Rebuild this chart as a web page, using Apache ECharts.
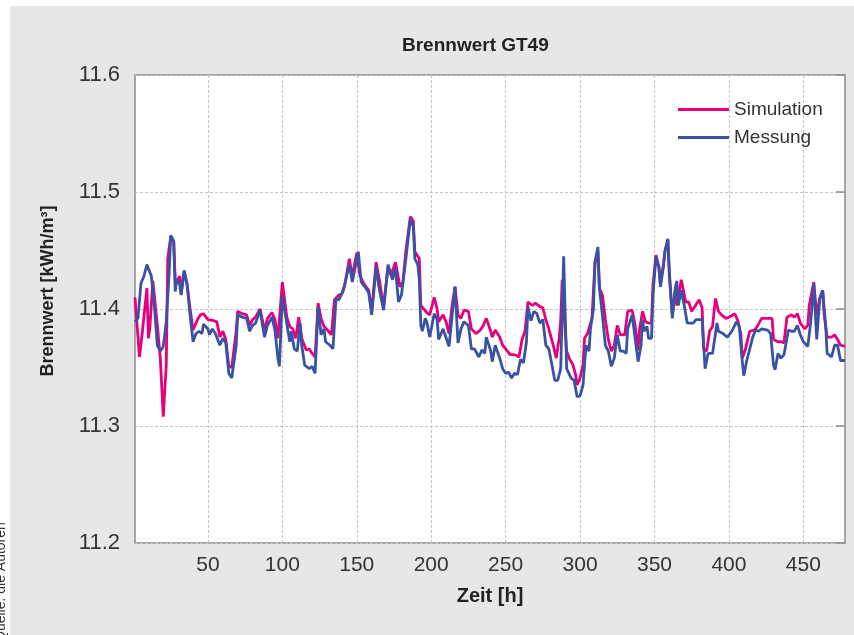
<!DOCTYPE html>
<html>
<head>
<meta charset="utf-8">
<script src="https://cdn.jsdelivr.net/npm/echarts@6/dist/echarts.min.js"></script>
<style>
	html, body { margin: 0; padding: 0; background: #fff; }
	#chart { width: 854px; height: 635px; }
</style>
</head>
<body>
<div id="chart"></div>
<script>
var simHours = [1,4,6,9,10,11,13,16,18,20,22,23,25,27,28,29,31,32,34,36,38,40,43,45,47,50,51,54,56,58,60,62,64,66,69,70,73,76,78,80,82,85,88,90,93,95,97,100,103,105,107,109,111,113,116,118,120,122,124,126,128,131,133,135,138,140,142,145,147,150,152,155,158,160,163,165,168,171,173,176,179,181,183,186,188,189,191,192,193,195,197,199,202,204,205,208,210,212,214,216,218,220,222,225,227,230,233,235,237,240,241,243,246,248,250,253,256,259,261,263,265,268,270,273,275,277,279,282,284,286,287,288,289,291,293,295,297,298,300,302,303,305,308,310,312,313,315,317,319,321,323,325,327,330,332,335,337,339,340,342,344,346,348,349,351,353,354,356,357,359,360,362,364,365,368,371,373,375,377,380,382,383,385,387,389,391,393,395,398,400,404,406,408,409,411,413,414,417,419,422,424,427,429,430,433,435,437,439,442,444,446,448,451,453,454,457,459,461,463,464,466,469,471,473,475,478];
var simValues = [11.410,11.359,11.381,11.418,11.375,11.384,11.424,11.386,11.358,11.308,11.352,11.443,11.462,11.458,11.426,11.423,11.428,11.413,11.432,11.421,11.400,11.382,11.391,11.395,11.396,11.391,11.392,11.390,11.389,11.376,11.381,11.374,11.351,11.350,11.381,11.398,11.396,11.395,11.386,11.391,11.393,11.400,11.382,11.392,11.397,11.391,11.375,11.423,11.393,11.385,11.383,11.375,11.393,11.375,11.365,11.366,11.362,11.359,11.405,11.392,11.385,11.381,11.378,11.408,11.412,11.413,11.421,11.443,11.428,11.448,11.429,11.421,11.416,11.398,11.440,11.426,11.402,11.436,11.429,11.440,11.419,11.423,11.450,11.479,11.475,11.449,11.445,11.443,11.403,11.400,11.397,11.395,11.410,11.400,11.389,11.395,11.389,11.379,11.403,11.419,11.395,11.392,11.399,11.398,11.383,11.379,11.382,11.386,11.392,11.381,11.376,11.382,11.376,11.369,11.366,11.361,11.361,11.359,11.374,11.381,11.406,11.403,11.405,11.402,11.401,11.391,11.383,11.369,11.358,11.375,11.390,11.425,11.400,11.364,11.357,11.353,11.344,11.335,11.341,11.352,11.375,11.379,11.392,11.439,11.449,11.418,11.412,11.391,11.374,11.364,11.369,11.386,11.378,11.378,11.398,11.399,11.386,11.365,11.383,11.398,11.389,11.388,11.388,11.421,11.446,11.436,11.421,11.438,11.449,11.459,11.428,11.395,11.416,11.403,11.425,11.406,11.406,11.398,11.402,11.408,11.401,11.366,11.364,11.381,11.385,11.409,11.398,11.395,11.392,11.393,11.396,11.390,11.379,11.358,11.365,11.376,11.381,11.382,11.385,11.392,11.392,11.392,11.392,11.374,11.372,11.372,11.371,11.393,11.395,11.393,11.396,11.388,11.383,11.386,11.403,11.423,11.395,11.409,11.416,11.395,11.376,11.376,11.378,11.374,11.369,11.368];

var mesHours = [1,3,5,7,9,12,14,16,18,20,22,24,25,27,28,29,31,32,34,36,38,40,42,44,46,47,50,51,53,55,56,58,60,62,64,66,69,70,73,76,78,80,82,85,88,90,93,95,97,98,100,102,105,106,108,110,112,113,115,118,120,122,124,126,128,129,132,134,136,138,141,145,147,151,153,156,158,160,163,165,168,171,174,176,178,180,183,186,188,189,191,192,193,194,196,197,199,202,204,205,208,209,212,213,216,218,220,222,225,227,229,232,234,236,237,240,241,243,246,248,250,252,254,256,258,260,262,264,265,267,269,271,273,275,277,279,281,283,285,287,289,291,292,294,296,298,300,302,304,306,307,309,310,312,313,315,317,319,321,323,325,327,329,331,332,335,337,339,341,342,343,345,346,348,349,351,353,354,356,357,359,360,362,364,365,366,368,370,372,374,376,378,380,382,384,386,389,392,393,396,399,402,405,407,409,410,412,414,416,418,420,422,426,428,430,431,433,435,437,440,442,444,446,448,450,453,455,457,459,461,463,465,466,469,471,473,475,478];
var mesValues = [11.389,11.392,11.422,11.428,11.438,11.428,11.403,11.369,11.364,11.368,11.389,11.432,11.463,11.458,11.415,11.425,11.421,11.412,11.433,11.421,11.395,11.372,11.379,11.381,11.379,11.387,11.383,11.378,11.383,11.379,11.380,11.369,11.375,11.371,11.345,11.341,11.369,11.395,11.393,11.392,11.381,11.386,11.388,11.399,11.376,11.386,11.393,11.382,11.358,11.351,11.411,11.395,11.372,11.381,11.366,11.364,11.388,11.369,11.352,11.349,11.351,11.345,11.402,11.378,11.383,11.372,11.369,11.366,11.408,11.408,11.416,11.438,11.423,11.449,11.423,11.418,11.414,11.395,11.436,11.418,11.399,11.438,11.425,11.435,11.406,11.412,11.443,11.477,11.470,11.443,11.438,11.425,11.386,11.381,11.392,11.389,11.376,11.396,11.391,11.374,11.383,11.379,11.368,11.368,11.419,11.371,11.383,11.389,11.386,11.366,11.366,11.359,11.365,11.362,11.376,11.364,11.355,11.369,11.358,11.349,11.345,11.346,11.341,11.345,11.344,11.357,11.354,11.372,11.402,11.390,11.398,11.396,11.388,11.391,11.369,11.366,11.353,11.339,11.339,11.349,11.445,11.349,11.348,11.341,11.339,11.325,11.326,11.335,11.369,11.364,11.383,11.400,11.440,11.453,11.418,11.395,11.369,11.364,11.351,11.358,11.378,11.364,11.364,11.362,11.383,11.395,11.375,11.355,11.369,11.391,11.381,11.385,11.375,11.375,11.412,11.445,11.435,11.419,11.436,11.449,11.460,11.432,11.392,11.418,11.424,11.403,11.416,11.403,11.388,11.388,11.388,11.391,11.391,11.391,11.349,11.362,11.362,11.388,11.381,11.379,11.376,11.381,11.389,11.385,11.355,11.343,11.356,11.366,11.376,11.382,11.381,11.383,11.382,11.379,11.352,11.348,11.362,11.358,11.361,11.382,11.381,11.381,11.386,11.378,11.372,11.368,11.389,11.422,11.374,11.408,11.416,11.386,11.362,11.359,11.369,11.369,11.356,11.356];

var xTicks = [50, 100, 150, 200, 250, 300, 350, 400, 450];
var seriesNames = ['Simulation', 'Messung'];

var fontMain = "'Liberation Sans', Arial, sans-serif";

function pairs(hours, values) {
	var out = [];
	for (var i = 0; i < hours.length; i++) {
		out.push([hours[i], values[i]]);
	}
	return out;
}

var chart = echarts.init(document.getElementById('chart'));

chart.setOption({
	backgroundColor: '#fff',
	animation: false,
	graphic: [
		{
			type: 'rect',
			z: -10,
			shape: { x: 10, y: 6, width: 850, height: 640 },
			style: { fill: '#e6e7e8' }
		},
		{
			// Quellenangabe, links abgeschnitten
			type: 'text',
			x: 8,
			y: 642,
			rotation: Math.PI / 2,
			style: {
				text: 'Quelle: die Autoren',
				fill: '#333',
				font: '14px ' + fontMain,
				textVerticalAlign: 'bottom'
			}
		}
	],
	title: {
		text: 'Brennwert GT49',
		left: 397,
		top: 31,
		textStyle: {
			fontFamily: fontMain,
			fontWeight: 'bold',
			fontSize: 19,
			color: '#222'
		}
	},
	legend: {
		data: seriesNames,
		orient: 'vertical',
		left: 678,
		top: 100,
		padding: 0,
		icon: 'rect',
		itemWidth: 51,
		itemHeight: 3,
		itemGap: 9,
		textStyle: {
			fontFamily: fontMain,
			fontSize: 19,
			color: '#333'
		}
	},
	grid: {
		left: 135,
		top: 75,
		right: 9,
		bottom: 92,
		show: true,
		backgroundColor: '#fff',
		borderColor: '#8c8c8c',
		borderWidth: 1.5
	},
	xAxis: {
		type: 'value',
		min: 1,
		max: 478,
		name: 'Zeit [h]',
		nameLocation: 'middle',
		nameGap: 43,
		nameTextStyle: {
			fontFamily: fontMain,
			fontWeight: 'bold',
			fontSize: 20,
			color: '#222'
		},
		axisLine: { show: false },
		axisTick: { show: false, customValues: xTicks },
		axisLabel: {
			customValues: xTicks,
			margin: 12,
			fontFamily: fontMain,
			fontSize: 21,
			color: '#333'
		},
		splitLine: {
			show: true,
			lineStyle: { color: '#c4c4c4', type: [3, 2], width: 1 }
		}
	},
	yAxis: [
		{
			type: 'value',
			min: 11.2,
			max: 11.6,
			interval: 0.1,
			name: 'Brennwert [kWh/m³]',
			nameLocation: 'middle',
			nameGap: 78,
			nameTextStyle: {
				fontFamily: fontMain,
				fontWeight: 'bold',
				fontSize: 18,
				color: '#222',
				padding: [0, 0, 0, 36]
			},
			axisLine: { show: false },
			axisTick: { show: false },
			axisLabel: {
				margin: 15,
				fontFamily: fontMain,
				fontSize: 22,
				color: '#333',
				formatter: function(v) {
					return v.toFixed(1);
				}
			},
			splitLine: {
				show: true,
				lineStyle: { color: '#c4c4c4', type: [3, 2], width: 1 }
			}
		},
		{
			// kurze Striche innen am rechten Rand
			type: 'value',
			position: 'right',
			min: 11.2,
			max: 11.6,
			interval: 0.1,
			axisLine: { show: false },
			axisTick: { show: true, inside: true, length: 9, lineStyle: { color: '#8c8c8c', width: 1.5 } },
			axisLabel: { show: false },
			splitLine: { show: false }
		}
	],
	series: [
		{
			name: seriesNames[0],
			type: 'line',
			symbol: 'none',
			data: pairs(simHours, simValues),
			lineStyle: { color: '#e6007e', width: 2.8 },
			itemStyle: { color: '#e6007e' }
		},
		{
			name: seriesNames[1],
			type: 'line',
			symbol: 'none',
			data: pairs(mesHours, mesValues),
			lineStyle: { color: '#3953a4', width: 2.8 },
			itemStyle: { color: '#3953a4' }
		}
	]
});
</script>
</body>
</html>
